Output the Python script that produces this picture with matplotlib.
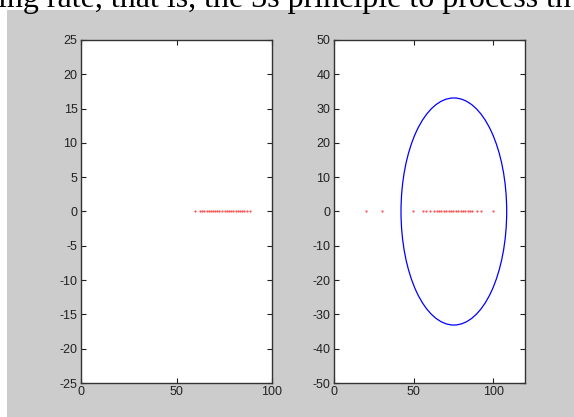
import matplotlib.pyplot as plt
from matplotlib.patches import Ellipse, Rectangle

# left panel: samples along y = 0
left_x = [59.7, 62.3, 63.5, 64.6, 65.8, 66.9, 68.0, 69.1, 70.2, 71.3, 72.5, 73.6,
          75.4, 76.5, 77.6, 78.7, 79.8, 80.9, 82.1, 83.2, 84.3, 85.5, 86.7, 88.5]
left_y = [0] * len(left_x)

# right panel: samples along y = 0 plus a fitted ellipse
right_x = [20.1, 30.0, 49.8, 56.1, 58.0, 60.3, 63.0, 64.5, 66.0, 67.5, 69.0, 70.5,
           72.0, 73.5, 75.0, 76.5, 78.0, 79.5, 81.0, 82.5, 84.0, 85.5, 87.0, 89.6,
           92.2, 100.0]
right_y = [0] * len(right_x)
ell_center = (75.3, 0.0)
ell_width = 66.4
ell_height = 66.2

left_yticks = [-25, -20, -15, -10, -5, 0, 5, 10, 15, 20, 25]
right_yticks = [-50, -40, -30, -20, -10, 0, 10, 20, 30, 40, 50]

plt.rcParams["font.family"] = ["Liberation Sans", "DejaVu Sans"]
plt.rcParams["axes.unicode_minus"] = False

fig = plt.figure(figsize=(5.74, 4.17), dpi=100, facecolor="white")
fig.patches.append(Rectangle((7 / 574, 0), 1, 1 - 10 / 417, transform=fig.transFigure,
                             facecolor="#cccccc", edgecolor="none", zorder=-10))
fig.text(-2 / 574, 1 - 7 / 417, "ing rate, that is, the 3s principle to process th",
         family=["Liberation Serif", "DejaVu Serif"], fontsize=23, va="baseline",
         ha="left", color="black")

ax1 = fig.add_axes([81 / 574, 1 - 383 / 417, 191 / 574, 343 / 417])
ax2 = fig.add_axes([334 / 574, 1 - 383 / 417, 191 / 574, 343 / 417])


def style(ax):
    ax.set_facecolor("white")
    ax.tick_params(direction="in", length=3.5, width=0.8, labelsize=9, pad=2.5,
                   top=True, right=True, colors="#222222")
    for s in ax.spines.values():
        s.set_color("#333333")
        s.set_linewidth(1.0)


ax1.plot(left_x, left_y, ".", color="#ff4040", markersize=1.1)
ax1.set_xlim(0, 100)
ax1.set_ylim(-25, 25)
ax1.set_xticks([0, 50, 100])
ax1.set_yticks(left_yticks)
style(ax1)

ax2.add_patch(Ellipse(ell_center, ell_width, ell_height, fill=False,
                      edgecolor="blue", linewidth=0.9))
ax2.plot(right_x, right_y, ".", color="#ff4040", markersize=1.1)
ax2.set_xlim(0, 120)
ax2.set_ylim(-50, 50)
ax2.set_xticks([0, 50, 100])
ax2.set_yticks(right_yticks)
style(ax2)

fig.savefig("out.png", dpi=100)
